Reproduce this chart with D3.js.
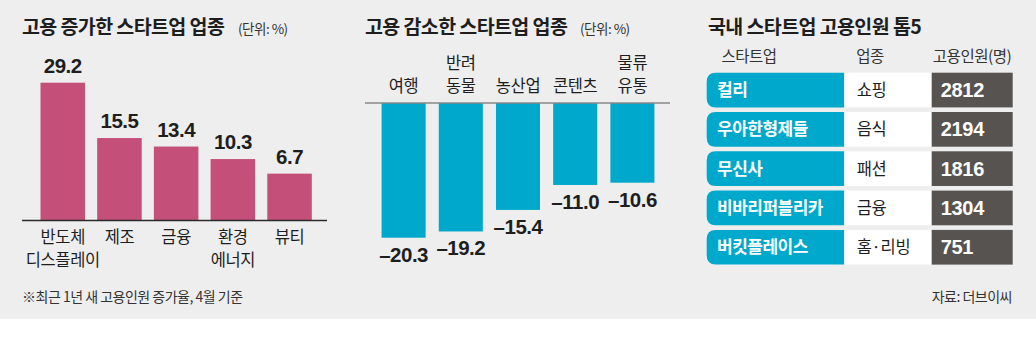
<!DOCTYPE html>
<html>
<head>
<meta charset="utf-8">
<script src="https://cdn.jsdelivr.net/npm/d3@7"></script>
<style>
  body { margin: 0; background: #fff; }
  text { font-family: "Noto Sans CJK KR", "Noto Sans", sans-serif; fill: #1e1e1e; }
  .title { font-size: 19.5px; font-weight: 700; letter-spacing: -0.6px; }
  .unit { font-size: 13.5px; letter-spacing: -0.5px; fill: #333; }
  .cat { font-size: 16.5px; letter-spacing: -0.4px; }
  .num { font-family: "Liberation Sans Narrow", "Liberation Sans", Arial, sans-serif; font-weight: 700; font-size: 20.5px; letter-spacing: -0.5px; }
  .note { font-size: 14px; letter-spacing: -0.5px; fill: #333; }
  .head { font-size: 15.5px; letter-spacing: -0.5px; fill: #333; }
  .name { font-size: 17px; font-weight: 700; fill: #fff; letter-spacing: -0.5px; }
  .ind { font-size: 16.5px; letter-spacing: -0.3px; }
  .cnt { font-family: "Liberation Sans Narrow", "Liberation Sans", Arial, sans-serif; font-weight: 700; font-size: 20px; fill: #fff; letter-spacing: -0.3px; }
</style>
</head>
<body>
<div id="chart"></div>
<script>
// data
const upCats = ["반도체\n디스플레이", "제조", "금융", "환경\n에너지", "뷰티"];
const upValues = [29.2, 15.5, 13.4, 10.3, 6.7];

const downCats = ["여행", "반려\n동물", "농산업", "콘텐츠", "물류\n유통"];
const downValues = [-20.3, -19.2, -15.4, -11.0, -10.6];

const topNames = ["컬리", "우아한형제들", "무신사", "비바리퍼블리카", "버킷플레이스"];
const topIndustries = ["쇼핑", "음식", "패션", "금융", "홈·리빙"];
const topCounts = [2812, 2194, 1816, 1304, 751];
const tableHeads = ["스타트업", "업종", "고용인원(명)"];

const W = 1036, H = 351;
const svg = d3.select("#chart").append("svg")
  .attr("width", W).attr("height", H);

svg.append("rect").attr("width", W).attr("height", 319).attr("fill", "#eeeeee");

const fmt = v => v.toFixed(1).replace("-", "–");

// ---- left: growth ----
const xUp = d3.scaleBand().domain(upCats).range([34.4, 317.9])
  .paddingInner(0.215).paddingOuter(0.1075);
const yUp = d3.scaleLinear().domain([-4.9, 29.2]).range([220.5, 82.7]);

svg.append("text").attr("class", "title").attr("x", 22).attr("y", 34).text("고용 증가한 스타트업 업종");
svg.append("text").attr("class", "unit").attr("x", 238).attr("y", 34).text("(단위: %)");

svg.selectAll(".barUp").data(upValues).join("rect")
  .attr("class", "barUp")
  .attr("x", (d, i) => xUp(upCats[i]))
  .attr("y", d => yUp(d))
  .attr("width", xUp.bandwidth())
  .attr("height", d => yUp(yUp.domain()[0]) - yUp(d))
  .attr("fill", "#c44f79");

svg.selectAll(".lblUp").data(upValues).join("text")
  .attr("class", "num")
  .attr("text-anchor", "middle")
  .attr("x", (d, i) => xUp(upCats[i]) + xUp.bandwidth() / 2)
  .attr("y", d => yUp(d) - 10)
  .text(d => d.toFixed(1));

svg.append("line").attr("x1", 22).attr("x2", 327).attr("y1", 220.5).attr("y2", 220.5)
  .attr("stroke", "#2a2a2a").attr("stroke-width", 1.5);

// two-line labels drawn as separate texts
upCats.forEach(c => {
  const cx = xUp(c) + xUp.bandwidth() / 2;
  c.split("\n").forEach((s, j) => svg.append("text").attr("class", "cat")
    .attr("text-anchor", "middle").attr("x", cx).attr("y", 243 + j * 23).text(s));
});

svg.append("text").attr("class", "note").attr("x", 22).attr("y", 302)
  .text("※최근 1년 새 고용인원 증가율, 4월 기준");

// ---- middle: decline ----
const xDn = d3.scaleBand().domain(downCats).range([375, 661])
  .paddingInner(0.23).paddingOuter(0.115);
const yDn = d3.scaleLinear().domain([3.46, -20.3]).range([103, 237.7]);

svg.append("text").attr("class", "title").attr("x", 365).attr("y", 34).text("고용 감소한 스타트업 업종");
svg.append("text").attr("class", "unit").attr("x", 580).attr("y", 34).text("(단위: %)");

svg.selectAll(".barDn").data(downValues).join("rect")
  .attr("class", "barDn")
  .attr("x", (d, i) => xDn(downCats[i]))
  .attr("y", yDn(yDn.domain()[0]))
  .attr("width", xDn.bandwidth())
  .attr("height", d => yDn(d) - yDn(yDn.domain()[0]))
  .attr("fill", "#00a9cb");

svg.selectAll(".lblDn").data(downValues).join("text")
  .attr("class", "num")
  .attr("text-anchor", "middle")
  .attr("x", (d, i) => xDn(downCats[i]) + xDn.bandwidth() / 2)
  .attr("y", d => yDn(d) + 24)
  .text(fmt);

svg.append("line").attr("x1", 365).attr("x2", 670).attr("y1", 103).attr("y2", 103)
  .attr("stroke", "#888").attr("stroke-width", 1.5);

downCats.forEach(c => {
  const parts = c.split("\n");
  const cx = xDn(c) + xDn.bandwidth() / 2;
  parts.forEach((s, j) => svg.append("text").attr("class", "cat")
    .attr("text-anchor", "middle").attr("x", cx)
    .attr("y", 92 - (parts.length - 1 - j) * 23).text(s));
});

// ---- right: table ----
svg.append("text").attr("class", "title").attr("x", 708).attr("y", 34).text("국내 스타트업 고용인원 톱5");

const cols = [706.7, 844.3, 931.7, 1012.7];
const yRow = d3.scaleBand().domain(topNames).range([72.7, 264.6])
  .paddingInner(0.117).paddingOuter(0);

const headX = [749, 870, 972];
tableHeads.forEach((h, i) => svg.append("text").attr("class", "head")
  .attr("text-anchor", "middle").attr("x", headX[i]).attr("y", 62).text(h));

const r = 9;
const rows = svg.selectAll(".row").data(topNames).join("g")
  .attr("class", "row")
  .attr("transform", d => `translate(0,${yRow(d)})`);
const bh = yRow.bandwidth();

rows.append("path")
  .attr("d", () => {
    const x0 = cols[0], x1 = cols[1];
    return `M${x1},0 H${x0 + r} Q${x0},0 ${x0},${r} V${bh - r} Q${x0},${bh} ${x0 + r},${bh} H${x1} Z`;
  })
  .attr("fill", "#00a9cb");
rows.append("rect").attr("x", cols[1]).attr("width", cols[2] - cols[1]).attr("height", bh).attr("fill", "#fff");
rows.append("rect").attr("x", cols[2]).attr("width", cols[3] - cols[2]).attr("height", bh).attr("fill", "#575350");

rows.append("text").attr("class", "name").attr("x", 717).attr("y", bh / 2 + 6).text(d => d);
rows.append("text").attr("class", "ind").attr("x", 856.7).attr("y", bh / 2 + 6).text((d, i) => topIndustries[i]);
rows.append("text").attr("class", "cnt").attr("x", 940.7).attr("y", bh / 2 + 7).text((d, i) => topCounts[i]);

svg.append("text").attr("class", "note").attr("text-anchor", "end").attr("x", 1012).attr("y", 302)
  .text("자료: 더브이씨");
</script>
</body>
</html>
